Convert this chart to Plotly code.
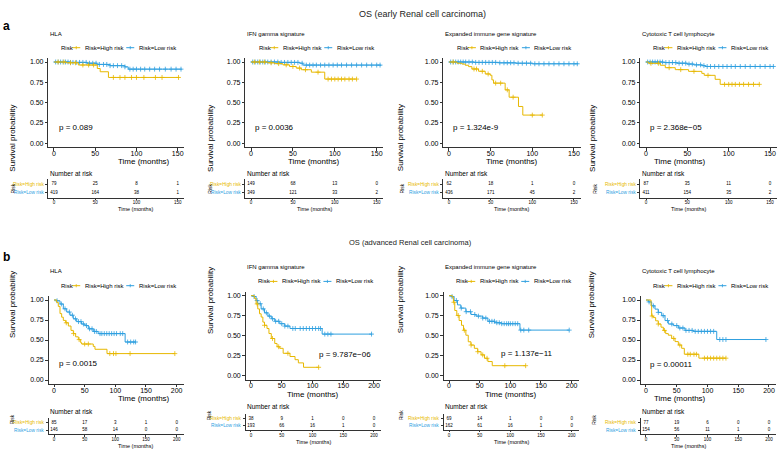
import numpy as np
import plotly.graph_objects as go

W, H = 777, 451
YEL = "#E7B800"
BLU = "#2E9FDF"
FONT = "Liberation Sans, Arial, sans-serif"

# ---------------- data ----------------
main_titles = ["OS (early Renal cell carcinoma)", "OS (advanced Renal cell carcinoma)"]
row_letters = ["a", "b"]
panel_titles = ["HLA", "IFN gamma signature", "Expanded immune gene signature", "Cytotoxic T cell lymphocyte"]
group_labels = ["Risk=High risk", "Risk=Low risk"]

ticks_a = [0, 50, 100, 150]
ticks_b = [0, 50, 100, 150, 200]
surv_ticks = [0, 0.25, 0.5, 0.75, 1.0]
surv_ticktext = ["0.00", "0.25", "0.50", "0.75", "1.00"]

# early RCC
a_hla_high_time = [0, 15, 29.5, 52.5, 56, 66, 152]
a_hla_high_surv = [1.0, 0.99, 0.963, 0.92, 0.88, 0.81, 0.81]
a_hla_high_cens = [5, 12, 20, 26, 35, 42, 48, 72, 80, 86, 94, 100, 109, 123, 131, 151]
a_hla_low_time = [0, 20, 40, 52, 68, 86, 90, 155]
a_hla_low_surv = [1.0, 0.995, 0.985, 0.97, 0.955, 0.94, 0.912, 0.912]
a_hla_low_cens = [2, 5, 8, 11, 14, 17, 20, 23, 27, 31, 35, 39, 43, 47, 51, 55, 60, 64, 68, 72, 77, 82, 86,
                  92, 96, 100, 105, 110, 116, 122, 128, 135, 142, 148, 154]

a_ifn_high_time = [0, 20, 28, 38, 46, 54, 60, 72, 88, 126]
a_ifn_high_surv = [1.0, 0.99, 0.98, 0.965, 0.945, 0.925, 0.905, 0.875, 0.79, 0.79]
a_ifn_high_cens = [4, 10, 16, 24, 33, 42, 50, 58, 65, 80, 92, 96, 100, 104, 108, 112, 117, 121, 126]
a_ifn_low_time = [0, 35, 58, 62, 155]
a_ifn_low_surv = [1.0, 0.995, 0.985, 0.962, 0.955]
a_ifn_low_cens = [2, 5, 8, 11, 14, 17, 20, 24, 28, 32, 36, 40, 44, 48, 52, 56, 61, 66, 70, 74, 78, 83, 88,
                  93, 98, 103, 108, 114, 120, 126, 132, 138, 144, 150, 154]

a_exp_high_time = [0, 9.6, 15.6, 19.5, 23.5, 27.5, 35.5, 43.5, 49.5, 51.5, 53.5, 67.4, 72.2, 83.4, 88.6, 112]
a_exp_high_surv = [1.0, 0.985, 0.975, 0.96, 0.943, 0.914, 0.886, 0.853, 0.837, 0.78, 0.74, 0.657, 0.567,
                   0.453, 0.347, 0.347]
a_exp_high_cens = [5, 30, 33, 40, 47, 56, 62, 70, 77, 100, 112]
a_exp_low_time = [0, 30, 60, 80, 100, 155]
a_exp_low_surv = [1.0, 0.995, 0.99, 0.985, 0.978, 0.975]
a_exp_low_cens = [2, 5, 8, 11, 14, 17, 20, 24, 28, 32, 36, 40, 44, 48, 52, 56, 61, 66, 70, 74, 78, 83, 88,
                  93, 98, 103, 108, 114, 120, 126, 132, 138, 144, 150, 154]

a_ctl_high_time = [0, 3.2, 17.3, 23.3, 35.4, 51.5, 67.5, 70.4, 83.6, 89.7, 137]
a_ctl_high_surv = [1.0, 0.984, 0.96, 0.93, 0.906, 0.885, 0.86, 0.836, 0.787, 0.725, 0.725]
a_ctl_high_cens = [6, 15, 28, 42, 58, 75, 95, 100, 104, 108, 113, 118, 124, 130, 137]
a_ctl_low_time = [0, 21, 37, 49.5, 57.5, 67.5, 71.6, 155]
a_ctl_low_surv = [1.0, 0.993, 0.985, 0.975, 0.965, 0.955, 0.945, 0.945]
a_ctl_low_cens = [2, 5, 8, 11, 14, 17, 20, 24, 28, 32, 36, 40, 44, 48, 52, 56, 61, 66, 70, 74, 78, 83, 88,
                  93, 98, 103, 108, 114, 120, 126, 132, 138, 144, 150, 154]

# advanced RCC
b_hla_high_time = [0, 4.3, 7, 9.8, 12.5, 15.2, 19, 23.4, 27.7, 31.5, 35.3, 39.7, 43.5, 45, 64, 66.8, 86.4, 197]
b_hla_high_surv = [1.0, 0.97, 0.92, 0.83, 0.785, 0.745, 0.715, 0.675, 0.62, 0.58, 0.54, 0.505, 0.467, 0.45,
                   0.42, 0.384, 0.33, 0.33]
b_hla_high_cens = [20, 32, 41, 50, 56, 91, 97, 101, 124, 197]
b_hla_low_time = [0, 4.3, 9.8, 15.2, 20.7, 26, 31.5, 37, 45, 50.5, 56, 64, 72, 116, 133]
b_hla_low_surv = [1.0, 0.99, 0.95, 0.89, 0.85, 0.81, 0.765, 0.73, 0.70, 0.68, 0.64, 0.607, 0.58, 0.475, 0.475]
b_hla_low_cens = [5, 12, 18, 25, 30, 35, 40, 44, 48, 53, 58, 62, 66, 69, 75, 78, 82, 86, 90, 94, 98, 102,
                  108, 112, 120, 125, 130, 133]

b_ifn_high_time = [0, 5.5, 8.3, 11, 13.8, 16.5, 19.3, 22, 26, 29.2, 33, 38.6, 42.4, 46.8, 52.3, 63.4, 71.6,
                   77, 85.4, 110]
b_ifn_high_surv = [1.0, 0.967, 0.897, 0.835, 0.774, 0.733, 0.67, 0.63, 0.59, 0.527, 0.465, 0.403, 0.362,
                   0.342, 0.28, 0.24, 0.20, 0.16, 0.105, 0.105]
b_ifn_high_cens = [10, 22, 35, 45, 60, 110]
b_ifn_low_time = [0, 3.9, 8.3, 11, 16.5, 22, 27.5, 33, 38.6, 46.8, 55, 63.4, 115.7, 197]
b_ifn_low_surv = [1.0, 0.99, 0.94, 0.90, 0.835, 0.786, 0.745, 0.712, 0.68, 0.65, 0.62, 0.59, 0.52, 0.52]
b_ifn_low_cens = [5, 10, 15, 20, 25, 30, 35, 40, 45, 50, 55, 60, 68, 72, 80, 85, 90, 95, 100, 105, 110,
                  113, 120, 125, 130, 196]

b_exp_high_time = [0, 5.5, 7.2, 9.4, 12.7, 16.5, 20.4, 23.7, 27.5, 31.4, 35.8, 41.3, 46.8, 52.3, 57.9, 63.4,
                   70.5, 125]
b_exp_high_surv = [1.0, 0.98, 0.918, 0.815, 0.753, 0.69, 0.63, 0.568, 0.506, 0.424, 0.383, 0.342, 0.30,
                   0.26, 0.218, 0.177, 0.125, 0.125]
b_exp_high_cens = [8, 15, 25, 36, 47, 55, 62, 91, 125]
b_exp_low_time = [0, 3.9, 8.3, 13.8, 19.3, 27.5, 35.8, 44, 55, 63.4, 74.4, 85.4, 115.7, 196]
b_exp_low_surv = [1.0, 0.988, 0.94, 0.885, 0.845, 0.80, 0.765, 0.745, 0.72, 0.68, 0.662, 0.65, 0.57, 0.57]
b_exp_low_cens = [5, 12, 20, 28, 35, 42, 48, 55, 60, 66, 70, 74, 78, 82, 86, 90, 94, 97, 100, 104, 108,
                  112, 117, 122, 130, 196]

b_ctl_high_time = [0, 8.1, 9.2, 11.9, 15.7, 20, 24.4, 28.2, 32, 36.3, 41.7, 47.2, 52.6, 58, 62.3, 86, 130]
b_ctl_high_surv = [1.0, 0.927, 0.80, 0.78, 0.74, 0.70, 0.66, 0.62, 0.58, 0.56, 0.52, 0.48, 0.437, 0.396,
                   0.322, 0.273, 0.273]
b_ctl_high_cens = [10, 20, 30, 45, 55, 68, 72, 78, 82, 95, 100, 105, 110, 115, 120, 125, 130]
b_ctl_low_time = [0, 3.8, 9.2, 14.6, 20, 25.5, 30.9, 36.3, 44.4, 52.6, 63.4, 77, 115, 195]
b_ctl_low_surv = [1.0, 0.976, 0.927, 0.886, 0.845, 0.804, 0.743, 0.70, 0.68, 0.65, 0.62, 0.608, 0.506, 0.506]
b_ctl_low_cens = [5, 12, 20, 28, 35, 42, 50, 55, 60, 65, 70, 75, 80, 85, 90, 95, 100, 105, 110, 120, 125,
                  130, 195]

# numbers at risk
a_hla_risk_high = [79, 25, 8, 1]
a_hla_risk_low = [419, 164, 38, 1]
a_ifn_risk_high = [149, 68, 13, 0]
a_ifn_risk_low = [349, 121, 33, 2]
a_exp_risk_high = [62, 18, 1, 0]
a_exp_risk_low = [436, 171, 45, 2]
a_ctl_risk_high = [87, 35, 11, 0]
a_ctl_risk_low = [411, 154, 35, 2]
b_hla_risk_high = [85, 17, 3, 1, 0]
b_hla_risk_low = [146, 58, 14, 0, 0]
b_ifn_risk_high = [38, 9, 1, 0, 0]
b_ifn_risk_low = [193, 66, 16, 1, 0]
b_exp_risk_high = [69, 14, 1, 0, 0]
b_exp_risk_low = [162, 61, 16, 1, 0]
b_ctl_risk_high = [77, 19, 6, 0, 0]
b_ctl_risk_low = [154, 56, 11, 1, 0]

a_pvalues = ["p = 0.089", "p = 0.0036", "p = 1.324e-9", "p = 2.368e\u221205"]
b_pvalues = ["p = 0.0015", "p = 9.787e\u221206", "p = 1.137e\u221211", "p = 0.00011"]

# ---------------- assemble ----------------
curves = {
    "a": [
        (a_hla_high_time, a_hla_high_surv, a_hla_high_cens, a_hla_low_time, a_hla_low_surv, a_hla_low_cens,
         a_hla_risk_high, a_hla_risk_low),
        (a_ifn_high_time, a_ifn_high_surv, a_ifn_high_cens, a_ifn_low_time, a_ifn_low_surv, a_ifn_low_cens,
         a_ifn_risk_high, a_ifn_risk_low),
        (a_exp_high_time, a_exp_high_surv, a_exp_high_cens, a_exp_low_time, a_exp_low_surv, a_exp_low_cens,
         a_exp_risk_high, a_exp_risk_low),
        (a_ctl_high_time, a_ctl_high_surv, a_ctl_high_cens, a_ctl_low_time, a_ctl_low_surv, a_ctl_low_cens,
         a_ctl_risk_high, a_ctl_risk_low),
    ],
    "b": [
        (b_hla_high_time, b_hla_high_surv, b_hla_high_cens, b_hla_low_time, b_hla_low_surv, b_hla_low_cens,
         b_hla_risk_high, b_hla_risk_low),
        (b_ifn_high_time, b_ifn_high_surv, b_ifn_high_cens, b_ifn_low_time, b_ifn_low_surv, b_ifn_low_cens,
         b_ifn_risk_high, b_ifn_risk_low),
        (b_exp_high_time, b_exp_high_surv, b_exp_high_cens, b_exp_low_time, b_exp_low_surv, b_exp_low_cens,
         b_exp_risk_high, b_exp_risk_low),
        (b_ctl_high_time, b_ctl_high_surv, b_ctl_high_cens, b_ctl_low_time, b_ctl_low_surv, b_ctl_low_cens,
         b_ctl_risk_high, b_ctl_risk_low),
    ],
}

# layout geometry (pixels)
geom = {
    "a": dict(zero=[54, 251, 449, 646], scale=[0.8247, 0.838, 0.833, 0.827], xr=[-7, 158], ticks=ticks_a,
              dy=[0, 0, 0, 0], y1=62, y0=143.3, title_y=34, leg_y=47.7, xt_y=161.8, nar_y=173.3,
              hi_y=184.3, lo_y=192.7, tt_y=209.3, main_y=7, main_x=422, main_size=9, letter_y=17,
              pvals=a_pvalues, ppos=[(4, 0.2), (2.5, 0.2), (2.5, 0.2), (2.8, 0.2)]),
    "b": dict(zero=[54, 251, 449, 646], scale=[0.6133, 0.615, 0.6133, 0.615], xr=[-9, 212], ticks=ticks_b,
              dy=[0, -4.3, -4.3, 0], y1=300, y0=380, title_y=271, leg_y=285.7, xt_y=398.8, nar_y=411,
              hi_y=422.7, lo_y=430, tt_y=446, main_y=242, main_x=410, main_size=7.5, letter_y=257,
              pvals=b_pvalues, ppos=[(4.4, 0.21), (107, 0.26), (81.5, 0.28), (3.8, 0.2)]),
}
ytitle_x = [6, 203.3, 400, 598.3]


def fx(p):
    return p / W


def fy(p):
    return 1 - p / H


def step_at(times, surv, t):
    idx = np.searchsorted(np.asarray(times), np.asarray(t), side="right") - 1
    return np.asarray(surv)[np.clip(idx, 0, len(surv) - 1)]


fig = go.Figure()
layout = {}
annotations = []
shapes = []
axis_style = dict(showline=True, linecolor="black", linewidth=0.8, ticks="outside", tickcolor="black",
                  tickwidth=0.8, showgrid=False, zeroline=False, fixedrange=True)

k = 1
for row in ["a", "b"]:
    g = geom[row]
    annotations.append(dict(text=main_titles[0] if row == "a" else main_titles[1], x=fx(g["main_x"]),
                            y=fy(g["main_y"]), xref="paper", yref="paper", showarrow=False,
                            font=dict(size=g["main_size"], family=FONT, color="#222")))
    annotations.append(dict(text="<b>" + row + "</b>", x=fx(1), y=fy(g["letter_y"]), xref="paper", yref="paper",
                            xanchor="left", showarrow=False, font=dict(size=12, family=FONT, color="black")))
    for i in range(4):
        ht, hs, hc, lt, ls, lc, rh, rl = curves[row][i]
        dy = g["dy"][i]
        z, sc = g["zero"][i], g["scale"][i]
        xL = z + g["xr"][0] * sc
        xR = min(z + g["xr"][1] * sc, W)
        unit = g["y0"] - g["y1"]
        top = g["y1"] + dy - 0.05 * unit
        bot = g["y0"] + dy + 0.05 * unit
        tunit = g["lo_y"] - g["hi_y"]
        ttop = g["hi_y"] + dy - 0.6 * tunit
        tbot = g["lo_y"] + dy + 0.6 * tunit
        kx = "xaxis" if k == 1 else f"xaxis{k}"
        ky = "yaxis" if k == 1 else f"yaxis{k}"
        layout[kx] = dict(domain=[fx(xL), fx(xR)], range=g["xr"], anchor=f"y{k}" if k > 1 else "y",
                          tickvals=g["ticks"], ticklen=2.5, ticklabelstandoff=-3,
                          tickfont=dict(size=7, family=FONT, color="black"), **axis_style)
        layout[ky] = dict(domain=[fy(bot), fy(top)], range=[-0.05, 1.05], anchor=f"x{k}" if k > 1 else "x",
                          tickvals=surv_ticks, ticktext=surv_ticktext, ticklen=2.5,
                          tickfont=dict(size=7, family=FONT, color="black"), **axis_style)
        tk = k + 1
        layout[f"xaxis{tk}"] = dict(domain=[fx(xL), fx(xR)], range=g["xr"], anchor=f"y{tk}",
                                    tickvals=g["ticks"], ticklen=1.5, ticklabelstandoff=-1,
                                    tickfont=dict(size=4.5, family=FONT, color="black"), **axis_style)
        layout[f"yaxis{tk}"] = dict(domain=[fy(tbot), fy(ttop)], range=[0.4, 2.6], anchor=f"x{tk}",
                                    tickvals=[1, 2], showticklabels=False, ticklen=2, **axis_style)
        xa = "x" if k == 1 else f"x{k}"
        ya = "y" if k == 1 else f"y{k}"
        for t_, s_, c_, col in [(lt, ls, lc, BLU), (ht, hs, hc, YEL)]:
            fig.add_trace(go.Scatter(x=t_, y=s_, mode="lines", line=dict(color=col, width=1, shape="hv"),
                                     xaxis=xa, yaxis=ya, showlegend=False, hoverinfo="skip"))
            fig.add_trace(go.Scatter(x=c_, y=step_at(t_, s_, c_), mode="markers",
                                     marker=dict(symbol="cross-thin", size=3.5, line=dict(color=col, width=0.8)),
                                     xaxis=xa, yaxis=ya, showlegend=False, hoverinfo="skip"))
        # risk table numbers
        fig.add_trace(go.Scatter(x=g["ticks"], y=[2] * len(rh), text=[str(v) for v in rh], mode="text",
                                 textfont=dict(size=4.5, family=FONT, color="black"),
                                 xaxis=f"x{tk}", yaxis=f"y{tk}", showlegend=False, hoverinfo="skip"))
        fig.add_trace(go.Scatter(x=g["ticks"], y=[1] * len(rl), text=[str(v) for v in rl], mode="text",
                                 textfont=dict(size=4.5, family=FONT, color="black"),
                                 xaxis=f"x{tk}", yaxis=f"y{tk}", showlegend=False, hoverinfo="skip"))
        # p-value
        pt, ps = g["ppos"][i]
        annotations.append(dict(text=g["pvals"][i], x=pt, y=ps, xref=xa, yref=ya, xanchor="left",
                                yanchor="middle", showarrow=False, font=dict(size=8, family=FONT, color="black")))
        # panel title
        annotations.append(dict(text=panel_titles[i], x=fx(xL), y=fy(g["title_y"] + dy), xref="paper",
                                yref="paper", xanchor="left", yanchor="middle", showarrow=False,
                                font=dict(size=6, family=FONT, color="black")))
        # legend
        c = (xL + z + g["xr"][1] * sc) / 2
        ly = fy(g["leg_y"] + dy)
        annotations.append(dict(text="Risk", x=fx(c - 57), y=ly, xref="paper", yref="paper", xanchor="left",
                                yanchor="middle", showarrow=False, font=dict(size=6, family=FONT, color="black")))
        for gx, col, lab in [(c - 44, YEL, group_labels[0]), (c + 10, BLU, group_labels[1])]:
            shapes.append(dict(type="line", xref="paper", yref="paper", x0=fx(gx), x1=fx(gx + 8), y0=ly, y1=ly,
                               line=dict(color=col, width=1)))
            shapes.append(dict(type="line", xref="paper", yref="paper", x0=fx(gx + 4), x1=fx(gx + 4),
                               y0=ly - 1.6 / H, y1=ly + 1.6 / H, line=dict(color=col, width=0.8)))
            annotations.append(dict(text=lab, x=fx(gx + 10.5), y=ly, xref="paper", yref="paper",
                                    xanchor="left", yanchor="middle", showarrow=False,
                                    font=dict(size=6, family=FONT, color="black")))
        # axis titles
        annotations.append(dict(text="Time (months)", x=fx(c), y=fy(g["xt_y"] + dy), xref="paper", yref="paper",
                                yanchor="middle", showarrow=False, font=dict(size=8, family=FONT, color="black")))
        annotations.append(dict(text="Survival probability", x=fx(ytitle_x[i]), y=fy((top + bot) / 2),
                                xref="paper", yref="paper", textangle=-90, showarrow=False,
                                font=dict(size=8, family=FONT, color="black")))
        # risk table texts
        annotations.append(dict(text="Number at risk", x=fx(xL), y=fy(g["nar_y"] + dy), xref="paper",
                                yref="paper", xanchor="left", yanchor="middle", showarrow=False,
                                font=dict(size=6.5, family=FONT, color="black")))
        for lab, yy, col in [(group_labels[0], g["hi_y"], YEL), (group_labels[1], g["lo_y"], BLU)]:
            annotations.append(dict(text=lab, x=fx(xL - 2.5), y=fy(yy + dy), xref="paper", yref="paper",
                                    xanchor="right", yanchor="middle", showarrow=False,
                                    font=dict(size=4.8, family=FONT, color=col)))
        annotations.append(dict(text="Risk", x=fx(ytitle_x[i] + 1), y=fy((ttop + tbot) / 2), xref="paper",
                                yref="paper", textangle=-90, showarrow=False,
                                font=dict(size=5, family=FONT, color="black")))
        annotations.append(dict(text="Time (months)", x=fx(c), y=fy(g["tt_y"] + dy), xref="paper", yref="paper",
                                yanchor="middle", showarrow=False, font=dict(size=5.5, family=FONT, color="black")))
        k += 2

fig.update_layout(width=W, height=H, margin=dict(l=0, r=0, t=0, b=0), paper_bgcolor="white",
                  plot_bgcolor="white", showlegend=False, annotations=annotations, shapes=shapes,
                  font=dict(family=FONT), **layout)
fig.write_html("out.html", config={"displayModeBar": False, "staticPlot": True},
               post_script="document.body.style.margin='0';document.body.style.padding='0';")
